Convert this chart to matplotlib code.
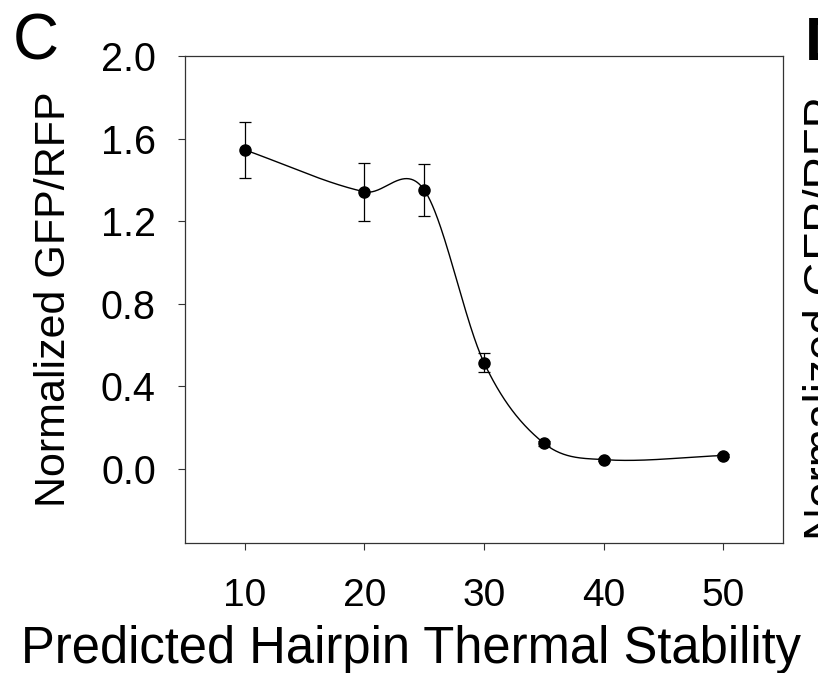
import numpy as np
import matplotlib
matplotlib.use('Agg')
import matplotlib.pyplot as plt

plt.rcParams['font.family'] = ['Liberation Sans', 'DejaVu Sans']

# data
stability = [10, 20, 25, 30, 35, 40, 50]
gfp_rfp = [1.545, 1.342, 1.351, 0.514, 0.124, 0.044, 0.064]
gfp_err = [0.137, 0.140, 0.125, 0.045, 0.012, 0.008, 0.008]
xticks = [10, 20, 30, 40, 50]
yticks = [0.0, 0.4, 0.8, 1.2, 1.6, 2.0]


def cardinal_curve(x, y, per_seg=80):
	# cubic hermite through the points, tangents from neighbouring points
	x = np.asarray(x, float)
	y = np.asarray(y, float)
	k = len(x)
	m = np.zeros(k)
	m[0] = (y[1]-y[0])/(x[1]-x[0])
	m[-1] = (y[-1]-y[-2])/(x[-1]-x[-2])
	for i in range(1, k-1):
		m[i] = (y[i+1]-y[i-1])/(x[i+1]-x[i-1])
	xs, ys = [], []
	for i in range(k-1):
		h = x[i+1]-x[i]
		t = np.linspace(0, 1, per_seg)
		h00 = 2*t**3-3*t**2+1
		h10 = t**3-2*t**2+t
		h01 = -2*t**3+3*t**2
		h11 = t**3-t**2
		xs.append(x[i]+h*t)
		ys.append(h00*y[i]+h10*h*m[i]+h01*y[i+1]+h11*h*m[i+1])
	return np.concatenate(xs), np.concatenate(ys)


fig = plt.figure(figsize=(8.18, 6.73), dpi=100)
ax = fig.add_axes([185/818, 130/673, 598/818, 487/673])

xs, ys = cardinal_curve(stability, gfp_rfp)
ax.plot(xs, ys, color='black', lw=1.0)
ax.errorbar(stability, gfp_rfp, yerr=gfp_err, fmt='o', color='black',
	ms=8, elinewidth=0.9, capsize=4.5, capthick=0.9)

ax.set_xlim(5, 55)
ax.set_ylim(-0.36, 2.0)
ax.set_xticks(xticks)
ax.set_yticks(yticks)
ax.set_yticklabels(['%.1f' % v for v in yticks])
for s in ax.spines.values():
	s.set_linewidth(0.9)
	s.set_color('#333333')
ax.tick_params(axis='both', direction='out', length=5, width=0.8, color='#333333')
ax.tick_params(axis='x', labelsize=28, pad=20)
ax.tick_params(axis='y', labelsize=28.5, pad=16)

ax.set_xlabel('Predicted Hairpin Thermal Stability', fontsize=36.5)
ax.xaxis.set_label_coords(0.378, -0.168)
ax.set_ylabel('Normalized GFP/RFP', fontsize=31)
ax.yaxis.set_label_coords(-0.185, 0.5)

fig.text(13/818, 1-13/673, 'C', fontsize=46, ha='left', va='top')
# neighbouring panel, cut off at the right edge
fig.text(805/818, 1-16/673, 'D', fontsize=44, fontweight='bold', ha='left', va='top')
fig.text(803/818, 1-318/673, 'Normalized GFP/RFP', fontsize=33, rotation=90,
	ha='left', va='center')

fig.savefig('out.png', dpi=100)
